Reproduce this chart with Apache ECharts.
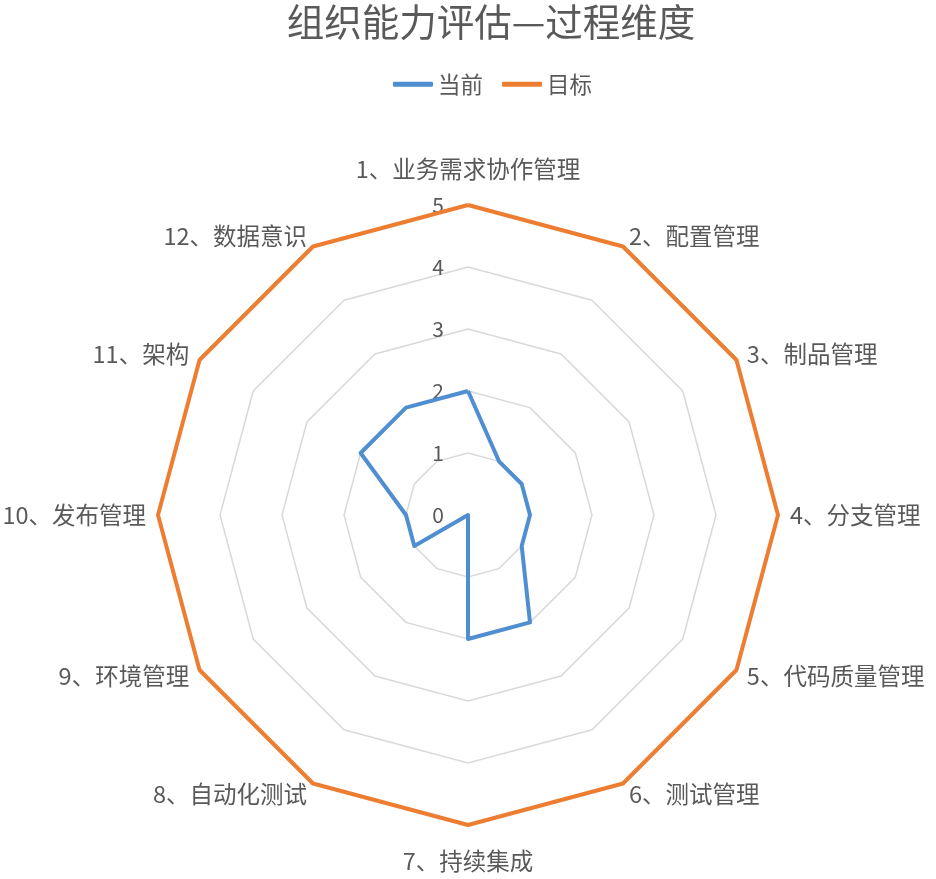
<!DOCTYPE html>
<html>
<head>
<meta charset="utf-8">
<script src="https://cdn.jsdelivr.net/npm/echarts@6/dist/echarts.min.js"></script>
<style>
html,body{margin:0;padding:0;background:#fff;}
#chart{width:936px;height:879px;}
</style>
</head>
<body>
<div id="chart"></div>
<script>
const categories = ['1、业务需求协作管理','2、配置管理','3、制品管理','4、分支管理','5、代码质量管理','6、测试管理','7、持续集成','8、自动化测试','9、环境管理','10、发布管理','11、架构','12、数据意识'];
const currentValues = [2,1,1,1,1,2,2,0,1,1,2,2];
const targetValues = [5,5,5,5,5,5,5,5,5,5,5,5];
const seriesNames = ['当前','目标'];
const maxValue = 5;

// ECharts radar places indicators counter-clockwise; reverse (keeping first) to go clockwise
const order = [0].concat(categories.map((_, i) => i).slice(1).reverse());
const textColor = '#595959';
const font = '"Noto Sans CJK SC", "Noto Sans", sans-serif';

const indicator = order.map((idx, k) => {
  const item = { name: categories[idx], max: maxValue, min: 0 };
  if (k === 0) {
    item.axisLabel = { show: true };
  }
  if (idx === 0 || idx === 6) {
    item.nameGap = 24;
  }
  return item;
});

const chart = echarts.init(document.getElementById('chart'));
chart.setOption({
  animation: false,
  backgroundColor: '#ffffff',
  title: {
    text: '组织能力评估—过程维度',
    left: 486, top: -2,
    textAlign: 'center',
    textStyle: { color: textColor, fontSize: 37.5, fontWeight: 'normal', fontFamily: font }
  },
  legend: {
    data: seriesNames,
    left: 393, top: 73,
    padding: 0,
    itemWidth: 40, itemHeight: 5, itemGap: 19,
    icon: 'roundRect',
    textStyle: { color: textColor, fontSize: 22.5, fontFamily: font }
  },
  radar: {
    center: [468, 515],
    radius: 310,
    startAngle: 90,
    shape: 'polygon',
    splitNumber: 5,
    axisName: { color: textColor, fontSize: 23.5, fontFamily: font },
    nameGap: 12,
    axisLine: { show: false },
    axisTick: { show: false },
    splitArea: { show: false },
    splitLine: { lineStyle: { color: '#D9D9D9', width: 1.5 } },
    axisLabel: { show: false, color: textColor, fontSize: 21, fontFamily: font, margin: 24 },
    indicator: indicator
  },
  series: [{
    type: 'radar',
    symbol: 'none',
    data: [
      { name: seriesNames[0], value: order.map(i => currentValues[i]),
        lineStyle: { color: '#4F8FD1', width: 4 }, itemStyle: { color: '#4F8FD1' } },
      { name: seriesNames[1], value: order.map(i => targetValues[i]),
        lineStyle: { color: '#ED7D31', width: 4 }, itemStyle: { color: '#ED7D31' } }
    ]
  }]
});
</script>
</body>
</html>
